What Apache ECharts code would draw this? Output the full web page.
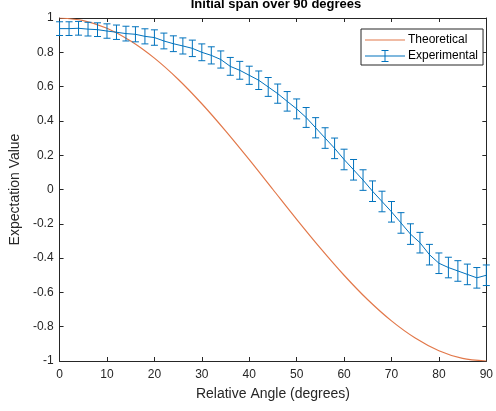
<!DOCTYPE html>
<html>
<head>
<meta charset="utf-8">
<title>Initial span over 90 degrees</title>
<script src="https://cdn.jsdelivr.net/npm/echarts@6/dist/echarts.min.js"></script>
<style>
    html, body { margin: 0; padding: 0; background: #fff; }
    #chart { width: 496px; height: 411px; }
</style>
</head>
<body>
<div id="chart"></div>
<script>
// theoretical curve, read every 5 degrees
var theoryAngles = [0, 5, 10, 15, 20, 25, 30, 35, 40, 45, 50, 55, 60, 65, 70, 75, 80, 85, 90];
var theoretical = [1, 0.985, 0.94, 0.866, 0.766, 0.643, 0.5, 0.342, 0.174, 0, -0.174, -0.342, -0.5, -0.643, -0.766, -0.866, -0.94, -0.985, -1];

// measured points, every 2 degrees
var angles = [0, 2, 4, 6, 8, 10, 12, 14, 16, 18, 20, 22, 24, 26, 28, 30, 32, 34, 36, 38, 40, 42, 44,
    46, 48, 50, 52, 54, 56, 58, 60, 62, 64, 66, 68, 70, 72, 74, 76, 78, 80, 82, 84, 86, 88, 90];
var experimental = [0.938, 0.938, 0.940, 0.935, 0.932, 0.924, 0.917, 0.909, 0.905, 0.893, 0.886, 0.866,
    0.850, 0.837, 0.823, 0.800, 0.782, 0.758, 0.718, 0.695, 0.666, 0.637, 0.598, 0.559, 0.514, 0.470,
    0.420, 0.360, 0.300, 0.240, 0.175, 0.115, 0.055, -0.010, -0.070, -0.130, -0.195, -0.260, -0.310,
    -0.380, -0.430, -0.455, -0.475, -0.495, -0.515, -0.500];
var errors = [0.040, 0.040, 0.040, 0.040, 0.040, 0.042, 0.042, 0.043, 0.044, 0.044, 0.045, 0.046,
    0.046, 0.047, 0.048, 0.049, 0.050, 0.050, 0.052, 0.052, 0.053, 0.054, 0.055, 0.056, 0.057, 0.058,
    0.058, 0.059, 0.060, 0.060, 0.060, 0.060, 0.060, 0.060, 0.060, 0.060, 0.060, 0.060, 0.060, 0.060,
    0.060, 0.060, 0.060, 0.060, 0.060, 0.060];

var orange = '#E2784A';
var blue = '#0072BD';
var ink = '#262626';
var font = 'Arial, "Liberation Sans", sans-serif';

var theoryData = [], expData = [], barData = [];
for (var i = 0; i < theoryAngles.length; i++) {
    theoryData.push([theoryAngles[i], theoretical[i]]);
}
for (var j = 0; j < angles.length; j++) {
    expData.push([angles[j], experimental[j]]);
    barData.push([angles[j], experimental[j], errors[j]]);
}

// vertical error bar with caps
function renderErrorBar(params, api) {
    var x = api.value(0), y = api.value(1), e = api.value(2);
    var top = api.coord([x, y + e]);
    var bottom = api.coord([x, y - e]);
    var cap = 3.5;
    var style = { stroke: blue, lineWidth: 1, fill: null };
    return {
        type: 'group',
        children: [
            { type: 'line', shape: { x1: top[0], y1: top[1], x2: bottom[0], y2: bottom[1] }, style: style },
            { type: 'line', shape: { x1: top[0] - cap, y1: top[1], x2: top[0] + cap, y2: top[1] }, style: style },
            { type: 'line', shape: { x1: bottom[0] - cap, y1: bottom[1], x2: bottom[0] + cap, y2: bottom[1] }, style: style }
        ]
    };
}

var lineIcon = 'path://M0,0h0.01v0.01h-0.01z M0,6.5h40v1h-40z M39.99,13.99h0.01v0.01h-0.01z';
var barIcon = 'path://M0,0h0.01v0.01h-0.01z M0,6.5h40v1h-40z M19.5,1h1v12h-1z M16.5,1h7v1h-7z M16.5,12h7v1h-7z M39.99,13.99h0.01v0.01h-0.01z';

// box axes: same look on all four sides
function boxAxis(pos, extra) {
    var axis = {
        type: 'value',
        position: pos,
        axisLine: { show: true, onZero: false, lineStyle: { color: ink, width: 1 } },
        axisTick: { show: true, inside: true, length: 4, lineStyle: { color: ink } },
        axisLabel: { show: false },
        splitLine: { show: false }
    };
    for (var k in extra) {
        axis[k] = extra[k];
    }
    return axis;
}

var chart = echarts.init(document.getElementById('chart'));
var option = {
    backgroundColor: '#fff',
    animation: false,
    title: {
        text: 'Initial span over 90 degrees',
        left: 276,
        top: -2,
        padding: 0,
        textAlign: 'center',
        textStyle: { fontFamily: font, fontSize: 13, fontWeight: 'bold', color: '#000' }
    },
    legend: {
        orient: 'vertical',
        left: 361,
        top: 29,
        padding: [4, 5, 2, 4],
        itemGap: 2,
        itemWidth: 40,
        itemHeight: 14,
        backgroundColor: '#fff',
        borderColor: ink,
        borderWidth: 1,
        textStyle: { fontFamily: font, fontSize: 12, color: '#000', padding: [0, 0, 0, -2] },
        data: [
            { name: 'Theoretical', icon: lineIcon },
            { name: 'Experimental', icon: barIcon }
        ]
    },
    grid: { left: 59, right: 3, top: 18, bottom: 50, containLabel: false },
    xAxis: [
        boxAxis('bottom', {
            min: 0, max: 90, interval: 10,
            name: 'Relative Angle (degrees)',
            nameLocation: 'middle',
            nameGap: 26,
            nameTextStyle: { fontFamily: font, fontSize: 14, color: ink },
            axisLabel: { fontFamily: font, fontSize: 12, color: ink, margin: 8 }
        }),
        boxAxis('top', { min: 0, max: 90, interval: 10 })
    ],
    yAxis: [
        boxAxis('left', {
            min: -1, max: 1, interval: 0.2,
            name: 'Expectation Value',
            nameLocation: 'middle',
            nameGap: 33,
            nameTextStyle: { fontFamily: font, fontSize: 14, color: ink },
            axisLabel: { fontFamily: font, fontSize: 12, color: ink, margin: 6 }
        }),
        boxAxis('right', { min: -1, max: 1, interval: 0.2 })
    ],
    series: [{
        name: 'Theoretical',
        type: 'line',
        data: theoryData,
        smooth: 0.3,
        showSymbol: false,
        symbol: 'none',
        color: orange,
        lineStyle: { color: orange, width: 1.2 },
        z: 2
    }, {
        name: 'Experimental',
        type: 'line',
        data: expData,
        showSymbol: false,
        symbol: 'none',
        color: blue,
        lineStyle: { color: blue, width: 1 },
        z: 3
    }, {
        name: 'Experimental',
        type: 'custom',
        data: barData,
        renderItem: renderErrorBar,
        color: blue,
        z: 3
    }]
};
chart.setOption(option);
</script>
</body>
</html>
